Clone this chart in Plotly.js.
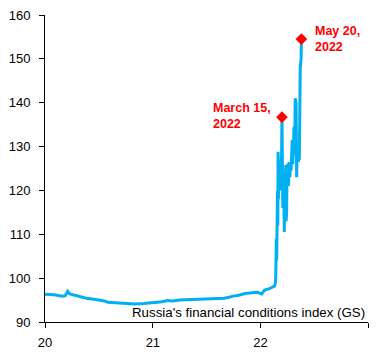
<!DOCTYPE html>
<html>
<head>
<meta charset="utf-8">
<script src="https://cdn.plot.ly/plotly-3.0.1.min.js"></script>
<style>html,body{margin:0;padding:0;background:#fff}#chart{width:383px;height:359px}</style>
</head>
<body>
<div id="chart"></div>
<script>
const dates = [
  "2020-01-01","2020-01-15","2020-02-01","2020-02-20","2020-03-01","2020-03-10","2020-03-18","2020-03-25",
  "2020-04-10","2020-05-01","2020-05-20","2020-06-15","2020-07-10","2020-07-20","2020-08-01","2020-09-01",
  "2020-10-01","2020-11-01","2020-12-01","2020-12-20","2021-01-15","2021-02-01","2021-02-20","2021-03-10",
  "2021-04-01","2021-05-01","2021-06-01","2021-07-01","2021-08-01","2021-09-01","2021-10-01","2021-10-20",
  "2021-11-10","2021-12-01","2021-12-20","2022-01-05","2022-01-15","2022-02-01","2022-02-10","2022-02-18",
  "2022-02-21","2022-02-22","2022-02-24","2022-02-25","2022-02-28","2022-03-01","2022-03-02","2022-03-03",
  "2022-03-04","2022-03-07","2022-03-09","2022-03-11","2022-03-14","2022-03-15","2022-03-16","2022-03-18",
  "2022-03-21","2022-03-23","2022-03-24","2022-03-25","2022-03-28","2022-03-29","2022-03-30","2022-03-31",
  "2022-04-01","2022-04-04","2022-04-06","2022-04-08","2022-04-11","2022-04-13","2022-04-15","2022-04-19",
  "2022-04-21","2022-04-25","2022-04-27","2022-04-29","2022-05-02","2022-05-04","2022-05-06","2022-05-10",
  "2022-05-12","2022-05-13","2022-05-16","2022-05-19","2022-05-20"
];
const fciValues = [
  96.3,96.3,96.2,96.0,95.9,96.0,97.0,96.4,
  96.1,95.7,95.4,95.2,95.0,94.8,94.5,94.4,
  94.3,94.1,94.2,94.3,94.4,94.6,94.9,94.8,
  95.0,95.1,95.2,95.3,95.3,95.4,95.9,96.1,
  96.5,96.6,96.8,96.4,97.3,97.6,97.9,98.2,
  99.0,100.5,109,104,120,112,128.8,118,
  126,120,127,123,129,136.7,122,116,
  121,110.5,124,118,125.8,113,124,115,
  125,126,121,126.5,123,126,124.5,131.5,
  126,134.5,128,141,140,123,130.5,126.5,
  129,127,148,150,154.5
];
const markerDates = ["2022-03-15","2022-05-20"];
const markerValues = [136.7,154.5];
const markerLabels = ["March 15,<br>2022","May 20,<br>2022"];
const tickVals = ["2020-01-01","2021-01-01","2022-01-01","2023-01-01"];
const tickText = ["20","21","22",""];
const seriesLabel = "Russia's financial conditions index (GS)";

const FONT = "Liberation Sans, Arial, sans-serif";
const traces = [
  {x: dates, y: fciValues, type: "scatter", mode: "lines",
   line: {color: "#00B0F0", width: 3}, hoverinfo: "skip"},
  {x: markerDates, y: markerValues, type: "scatter", mode: "markers",
   marker: {symbol: "diamond", color: "#FF0000", size: 9}, hoverinfo: "skip"}
];
const annotations = [
  {x: markerDates[0], y: markerValues[0], xref: "x", yref: "y", text: markerLabels[0],
   showarrow: false, xanchor: "right", yanchor: "middle", align: "left", xshift: -9, yshift: 1,
   font: {family: FONT, size: 12.5, color: "#FF0000", weight: "bold"}},
  {x: markerDates[1], y: markerValues[1], xref: "x", yref: "y", text: markerLabels[1],
   showarrow: false, xanchor: "left", yanchor: "middle", align: "left", xshift: 12, yshift: 0,
   font: {family: FONT, size: 12.5, color: "#FF0000", weight: "bold"}},
  {x: 1, y: 90, xref: "paper", yref: "y", text: seriesLabel, showarrow: false,
   xanchor: "right", yanchor: "bottom", yshift: 0, xshift: -1,
   font: {family: FONT, size: 13.3, color: "#000"}}
];
const layout = {
  width: 383, height: 359,
  margin: {l: 45, r: 15, t: 15, b: 37},
  paper_bgcolor: "#fff", plot_bgcolor: "#fff",
  showlegend: false,
  font: {family: FONT, size: 13, color: "#000"},
  xaxis: {type: "date", range: ["2020-01-01","2023-01-01"], tickvals: tickVals, ticktext: tickText,
          showgrid: false, zeroline: false, showline: true, linecolor: "#000", linewidth: 1,
          ticks: "outside", ticklen: 5, tickcolor: "#000", tickwidth: 1, tickangle: 0,
          ticklabelstandoff: 3, fixedrange: true},
  yaxis: {range: [90, 160], dtick: 10, tick0: 90, showgrid: false, zeroline: false,
          showline: true, linecolor: "#000", linewidth: 1,
          ticks: "outside", ticklen: 5, tickcolor: "#000", tickwidth: 1,
          ticklabelstandoff: 6, fixedrange: true},
  annotations: annotations
};
Plotly.newPlot("chart", traces, layout, {displayModeBar: false, staticPlot: true});
</script>
</body>
</html>
